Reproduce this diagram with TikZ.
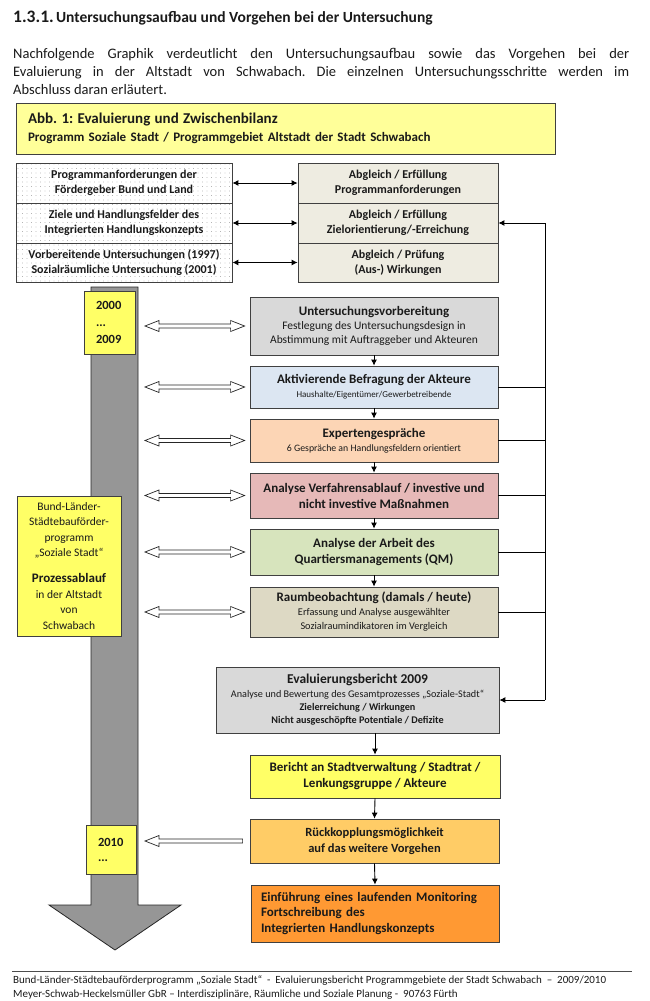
\documentclass[tikz,border=0pt]{standalone}
\usepackage{fontspec}
\setmainfont{Carlito}
\frenchspacing
\usetikzlibrary{arrows.meta,patterns.meta,calc}
\definecolor{ttl}{HTML}{FFFF99}
\definecolor{cyel}{HTML}{FFFF66}
\definecolor{cbeige}{HTML}{EEECE1}
\definecolor{cgray}{HTML}{D9D9D9}
\definecolor{cblue}{HTML}{DCE6F2}
\definecolor{cpeach}{HTML}{FCD5B5}
\definecolor{crose}{HTML}{E6B9B8}
\definecolor{cgreen}{HTML}{D7E4BD}
\definecolor{ctan}{HTML}{DDD9C4}
\definecolor{clor}{HTML}{FFCC66}
\definecolor{cor}{HTML}{FF9933}
\definecolor{tlgray}{HTML}{969696}
\definecolor{ink}{HTML}{1A1A1A}
\newcommand\fsz[2]{\fontsize{#1}{#2}\selectfont}
\newcommand\hollowdbl[2]{\draw[hollow] let \p1=(#1), \p2=([xshift=-5pt]#2.west), \p3=(#2.west) in
  (\x1,\y3) -- ++(14pt,5.5pt) -- ++(0pt,-3.5pt) -- (\x2-14pt,\y3+2pt) -- ++(0pt,3.5pt) -- (\x2,\y3)
  -- ++(-14pt,-5.5pt) -- ++(0pt,3.5pt) -- (\x1+14pt,\y3-2pt) -- ++(0pt,-3.5pt) -- cycle;}
\newcommand\hollowleft[2]{\draw[hollow] let \p1=(#1), \p2=([xshift=-7pt]#2.west), \p3=(#2.west) in
  (\x1,\y3) -- ++(14pt,5.5pt) -- ++(0pt,-3.5pt) -- (\x2,\y3+2pt) -- (\x2,\y3-2pt)
  -- (\x1+14pt,\y3-2pt) -- ++(0pt,-3.5pt) -- cycle;}
\begin{document}
\begin{tikzpicture}[x=1pt,y=-1pt,
  bx/.style={draw=black!75, line width=0.8pt, inner sep=0pt, align=center, text=ink},
  dotbox/.style={bx, preaction={fill=white}, pattern={Dots[distance=4.5pt,radius=0.45pt]}, pattern color=black!45},
  arr/.style={line width=0.9pt, -{Latex[length=6pt,width=6pt]}},
  dblarr/.style={line width=0.9pt, {Latex[length=6pt,width=6pt]}-{Latex[length=6pt,width=6pt]}},
  hollow/.style={draw=black!85, line width=0.7pt, fill=white},
  fbline/.style={line width=0.9pt}]
\useasboundingbox (0,0) rectangle (650,1001);
\fill[white] (0,0) rectangle (650,1001);

% heading and paragraph
\node[anchor=west, inner sep=0pt, font=\bfseries, text=ink] (hd) at (13,18)
  {{\fsz{17.5}{20}1.3.1.} {\fsz{15.5}{20}Untersuchungsaufbau und Vorgehen bei der Untersuchung}};
\node[anchor=north west, inner sep=0pt, text width=616pt, align=justify, font=\fsz{14.5}{18}, text=ink] (par) at (13,48)
  {Nachfolgende Graphik verdeutlicht den Untersuchungsaufbau sowie das Vorgehen bei der\linebreak
   Evaluierung in der Altstadt von Schwabach. Die einzelnen Untersuchungsschritte werden im\linebreak
   Abschluss daran erläutert.};

% title box
\node[bx, fill=ttl, text width=515pt, inner xsep=12pt, minimum height=51pt, align=left, font=\fsz{13}{18}\bfseries] (tb) at (285.5,128.5)
  {{\fsz{15}{18}Abb. 1: Evaluierung und Zwischenbilanz}\\Programm Soziale Stadt / Programmgebiet Altstadt der Stadt Schwabach};

% left dotted boxes
\node[dotbox, minimum width=216pt, minimum height=40pt, font=\fsz{12}{15}\bfseries] (l1) at (124,183)
  {Programmanforderungen der\\Fördergeber Bund und Land};
\node[dotbox, minimum width=216pt, minimum height=40pt, font=\fsz{12}{15}\bfseries] (l2) at (124,223)
  {Ziele und Handlungsfelder des\\Integrierten Handlungskonzepts};
\node[dotbox, minimum width=216pt, minimum height=39pt, font=\fsz{12}{15}\bfseries] (l3) at (124,262.5)
  {Vorbereitende Untersuchungen (1997)\\Sozialräumliche Untersuchung (2001)};

% right boxes
\node[bx, fill=cbeige, minimum width=200pt, minimum height=40pt, font=\fsz{12}{15}\bfseries] (a1) at (398,183)
  {Abgleich / Erfüllung\\Programmanforderungen};
\node[bx, fill=cbeige, minimum width=200pt, minimum height=40pt, font=\fsz{12}{15}\bfseries] (a2) at (398,223)
  {Abgleich / Erfüllung\\Zielorientierung/-Erreichung};
\node[bx, fill=cbeige, minimum width=200pt, minimum height=39pt, font=\fsz{12}{15}\bfseries] (a3) at (398,262.5)
  {Abgleich / Prüfung\\(Aus-) Wirkungen};

\draw[dblarr] (l1.east) -- (a1.west);
\draw[dblarr] (l2.east) -- (a2.west);
\draw[dblarr] (l3.east) -- (a3.west);

% timeline arrow
\draw[fill=tlgray, line width=0.8pt, draw=black!85] (91,287) -- (138,287) -- (138,905) -- (181,905) -- (115,950) -- (49,905) -- (91,905) -- cycle;

% year boxes and label
\node[bx, fill=cyel, minimum height=63pt, text width=27pt, inner xsep=12pt, align=left, font=\fsz{12.5}{17}\bfseries] (y1) at (109.5,322.5)
  {2000\\...\\2009};
\node[bx, fill=cyel, minimum height=49pt, text width=26pt, inner xsep=12pt, align=left, font=\fsz{12.5}{15}\bfseries] (y2) at (111,849.5)
  {2010\\...};
\node[bx, fill=cyel, minimum width=104pt, minimum height=140pt, font=\fsz{11.5}{15.5}] (lb) at (69,566)
  {Bund-Länder-\\Städtebauförder-\\programm\\„Soziale Stadt“\\[10.5pt]{\fsz{13}{15.5}\bfseries Prozessablauf}\\in der Altstadt\\von\\Schwabach};

% process boxes
\node[bx, fill=cgray, minimum width=248pt, minimum height=58pt, font=\fsz{11.5}{14}] (u1) at (374,326)
  {{\fsz{13}{14}\bfseries Untersuchungsvorbereitung}\\Festlegung des Untersuchungsdesign in\\Abstimmung mit Auftraggeber und Akteuren};
\node[bx, fill=cblue, minimum width=248pt, minimum height=42pt, font=\fsz{9}{14}] (u2) at (374,387)
  {{\fsz{13}{14}\bfseries Aktivierende Befragung der Akteure}\\Haushalte/Eigentümer/Gewerbetreibende};
\node[bx, fill=cpeach, minimum width=248pt, minimum height=43pt, font=\fsz{9.8}{14}] (u3) at (374,440.5)
  {{\fsz{13}{14}\bfseries Expertengespräche}\\6 Gespräche an Handlungsfeldern orientiert};
\node[bx, fill=crose, minimum width=248pt, minimum height=45pt, font=\fsz{13}{16}\bfseries] (u4) at (374,495.5)
  {Analyse Verfahrensablauf / investive und\\nicht investive Maßnahmen};
\node[bx, fill=cgreen, minimum width=248pt, minimum height=46pt, font=\fsz{13}{16}\bfseries] (u5) at (374,552)
  {Analyse der Arbeit des\\Quartiersmanagements (QM)};
\node[bx, fill=ctan, minimum width=248pt, minimum height=50pt, font=\fsz{10.3}{14}] (u6) at (374,612)
  {{\fsz{13}{14}\bfseries Raumbeobachtung (damals / heute)}\\Erfassung und Analyse ausgewählter\\Sozialraumindikatoren im Vergleich};
\node[bx, fill=cgray, minimum width=283pt, minimum height=66pt, font=\fsz{10.2}{13}] (ev) at (357.5,700)
  {{\fsz{13.5}{13}\bfseries Evaluierungsbericht 2009}\\[1pt]Analyse und Bewertung des Gesamtprozesses „Soziale-Stadt“\\{\bfseries Zielerreichung / Wirkungen}\\{\bfseries Nicht ausgeschöpfte Potentiale / Defizite}};
\node[bx, fill=cyel, minimum width=250pt, minimum height=43pt, font=\fsz{13}{16}\bfseries] (be) at (375,776.5)
  {Bericht an Stadtverwaltung / Stadtrat /\\Lenkungsgruppe / Akteure};
\node[bx, fill=clor, minimum width=249pt, minimum height=44pt, font=\fsz{12.5}{16}\bfseries] (rk) at (374.5,841)
  {Rückkopplungsmöglichkeit\\auf das weitere Vorgehen};
\node[bx, fill=cor, text width=228pt, inner xsep=10pt, minimum height=57pt, align=left, font=\fsz{13}{15.5}\bfseries] (ei) at (375,913.5)
  {Einführung eines laufenden Monitoring\\Fortschreibung des\\Integrierten Handlungskonzepts};

% vertical flow arrows
\draw[arr] (u1.south) -- (u2.north);
\draw[arr] (u2.south) -- (u3.north);
\draw[arr] (u3.south) -- (u4.north);
\draw[arr] (u4.south) -- (u5.north);
\draw[arr] (u5.south) -- (u6.north);
\draw[arr] (ev.south -| be.north) -- (be.north);
\draw[arr] (be.south) -- (rk.north);
\draw[arr] (rk.south) -- (ei.north);

% feedback line
\coordinate (fbt) at (545,223);
\coordinate (fbb) at (545,700);
\draw[arr] (fbt) -- (a2.east);
\draw[fbline] (fbt) -- (fbb);
\draw[arr] (fbb) -- (ev.east);
\foreach \n in {u2,u3,u4,u5,u6} \draw[fbline] (\n.east) -- (\n.east -| fbt);

% hollow arrows between timeline and boxes
\coordinate (t1) at (145,326);
\coordinate (t2) at (145,387);
\coordinate (t3) at (145,440);
\coordinate (t4) at (145,495);
\coordinate (t5) at (145,552);
\coordinate (t6) at (145,612);
\coordinate (t7) at (145,841);
\hollowdbl{t1}{u1}
\hollowdbl{t2}{u2}
\hollowdbl{t3}{u3}
\hollowdbl{t4}{u4}
\hollowdbl{t5}{u5}
\hollowdbl{t6}{u6}
\hollowleft{t7}{rk}

% footer
\coordinate (fl) at (12,971);
\coordinate (fr) at (632,971);
\draw[line width=0.8pt, black!70] (fl) -- (fr);
\node[anchor=north west, inner sep=0pt, align=left, font=\fsz{11}{14}, text=ink] (ft) at (13,975)
  {Bund-Länder-Städtebauförderprogramm „Soziale Stadt“~~-~~Evaluierungsbericht Programmgebiete der Stadt Schwabach~~–~~2009/2010\\
   Meyer-Schwab-Heckelsmüller GbR – Interdisziplinäre, Räumliche und Soziale Planung~-~~90763 Fürth};
\end{tikzpicture}
\end{document}
